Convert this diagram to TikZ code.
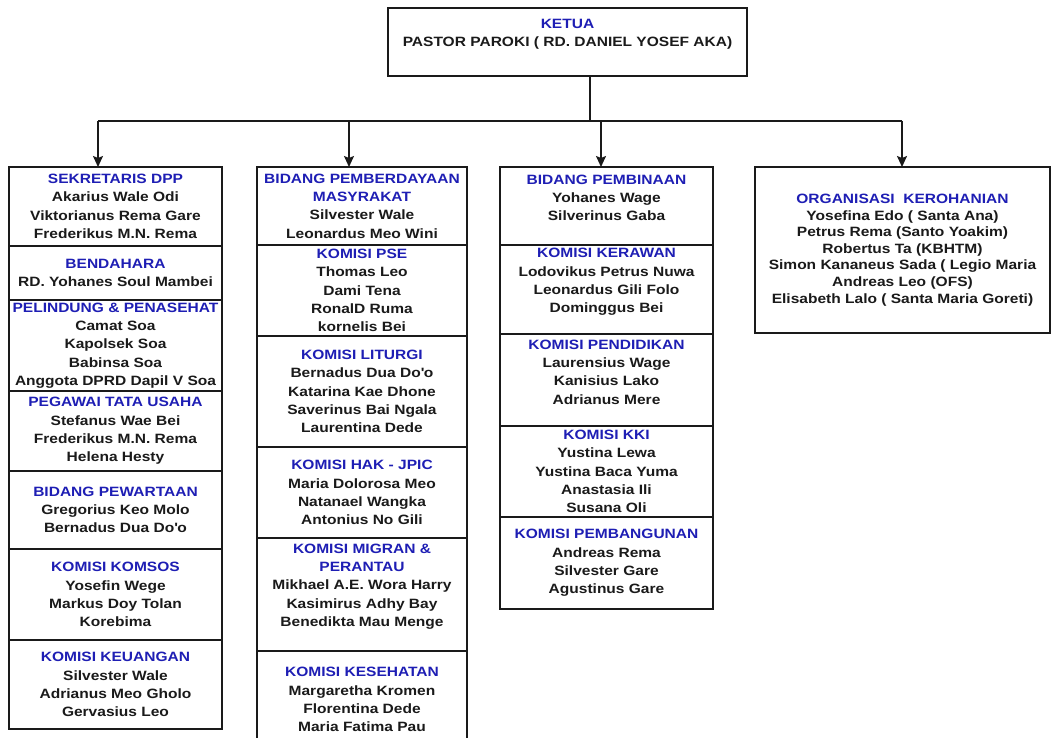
\documentclass[tikz,border=0pt]{standalone}
\usepackage{fontspec}
\setmainfont{Liberation Sans}[FakeStretch=1.15]
\usetikzlibrary{positioning,arrows.meta}
\definecolor{hdblue}{HTML}{1E1EB4}
\definecolor{ink}{HTML}{1A1A1A}
\newcommand{\hdr}[1]{\textcolor{hdblue}{#1}}

\tikzset{
  unit/.style={draw=ink, line width=1.5pt, fill=white, align=center,
    inner sep=0pt, outer sep=0pt, text=ink,
    font=\fontsize{13.5pt}{18.3pt}\selectfont\bfseries},
  unittext/.style={align=center, inner sep=0pt, text=ink,
    font=\fontsize{13.5pt}{18.3pt}\selectfont\bfseries},
  link/.style={draw=ink, line width=1.5pt},
  feed/.style={link, -{Stealth[length=11pt,width=10pt,inset=2pt]}},
}

\begin{document}
\begin{tikzpicture}[x=1pt, y=-1pt]
    \useasboundingbox (0,0) rectangle (1055,738);
    \fill[white] (0,0) rectangle (1055,738);
    \clip (0,0) rectangle (1055,738);

    % ketua
    \node[unit, anchor=north, minimum width=359pt, minimum height=68pt,
        label={[unittext, yshift=8pt]center:{\hdr{KETUA}\\PASTOR PAROKI ( RD. DANIEL YOSEF AKA)}}]
        (ketua) at (567.5,8) {};

    % kolom 1
    \begin{scope}[every node/.append style={minimum width=213pt}]
        \node[unit, anchor=north, minimum height=79pt] (sekretaris) at (115.5,167)
            {\hdr{SEKRETARIS DPP}\\Akarius Wale Odi\\Viktorianus Rema Gare\\Frederikus M.N. Rema};
        \node[unit, below=0pt of sekretaris, minimum height=54pt] (bendahara)
            {\hdr{BENDAHARA}\\RD. Yohanes Soul Mambei};
        \node[unit, below=0pt of bendahara, minimum height=91pt] (pelindung)
            {\hdr{PELINDUNG \& PENASEHAT}\\Camat Soa\\Kapolsek Soa\\Babinsa Soa\\Anggota DPRD Dapil V Soa};
        \node[unit, below=0pt of pelindung, minimum height=80pt] (pegawai)
            {\hdr{PEGAWAI TATA USAHA}\\Stefanus Wae Bei\\Frederikus M.N. Rema\\Helena Hesty};
        \node[unit, below=0pt of pegawai, minimum height=78pt] (pewartaan)
            {\hdr{BIDANG PEWARTAAN}\\Gregorius Keo Molo\\Bernadus Dua Do\textquotesingle o};
        \node[unit, below=0pt of pewartaan, minimum height=91pt] (komsos)
            {\hdr{KOMISI KOMSOS}\\Yosefin Wege\\Markus Doy Tolan\\Korebima};
        \node[unit, below=0pt of komsos, minimum height=89pt] (keuangan)
            {\hdr{KOMISI KEUANGAN}\\Silvester Wale\\Adrianus Meo Gholo\\Gervasius Leo};
    \end{scope}

    % kolom 2
    \begin{scope}[every node/.append style={minimum width=210pt}]
        \node[unit, anchor=north, minimum height=78pt] (masyarakat) at (362,167)
            {\hdr{BIDANG PEMBERDAYAAN}\\\hdr{MASYRAKAT}\\Silvester Wale\\Leonardus Meo Wini};
        \node[unit, below=0pt of masyarakat, minimum height=91pt] (pse)
            {\hdr{KOMISI PSE}\\Thomas Leo\\Dami Tena\\RonalD Ruma\\kornelis Bei};
        \node[unit, below=0pt of pse, minimum height=111pt] (liturgi)
            {\hdr{KOMISI LITURGI}\\Bernadus Dua Do\textquotesingle o\\Katarina Kae Dhone\\Saverinus Bai Ngala\\Laurentina Dede};
        \node[unit, below=0pt of liturgi, minimum height=91pt] (jpic)
            {\hdr{KOMISI HAK - JPIC}\\Maria Dolorosa Meo\\Natanael Wangka\\Antonius No Gili};
        \node[unit, below=0pt of jpic, minimum height=113pt,
            label={[unittext, yshift=8pt]center:{\hdr{KOMISI MIGRAN \&}\\\hdr{PERANTAU}\\Mikhael A.E. Wora Harry\\Kasimirus Adhy Bay\\Benedikta Mau Menge}}]
            (migran) {};
        \node[unit, below=0pt of migran, minimum height=97pt] (kesehatan)
            {\hdr{KOMISI KESEHATAN}\\Margaretha Kromen\\Florentina Dede\\Maria Fatima Pau};
    \end{scope}

    % kolom 3
    \begin{scope}[every node/.append style={minimum width=213pt}]
        \node[unit, anchor=north, minimum height=78pt,
            label={[unittext, yshift=8pt]center:{\hdr{BIDANG PEMBINAAN}\\Yohanes Wage\\Silverinus Gaba}}]
            (pembinaan) at (606.5,167) {};
        \node[unit, below=0pt of pembinaan, minimum height=89pt,
            label={[unittext, yshift=7.5pt]center:{\hdr{KOMISI KERAWAN}\\Lodovikus Petrus Nuwa\\Leonardus Gili Folo\\Dominggus Bei}}]
            (kerawan) {};
        \node[unit, below=0pt of kerawan, minimum height=92pt,
            label={[unittext, yshift=8pt]center:{\hdr{KOMISI PENDIDIKAN}\\Laurensius Wage\\Kanisius Lako\\Adrianus Mere}}]
            (pendidikan) {};
        \node[unit, below=0pt of pendidikan, minimum height=91pt] (kki)
            {\hdr{KOMISI KKI}\\Yustina Lewa\\Yustina Baca Yuma\\Anastasia Ili\\Susana Oli};
        \node[unit, below=0pt of kki, minimum height=92pt] (pembangunan)
            {\hdr{KOMISI PEMBANGUNAN}\\Andreas Rema\\Silvester Gare\\Agustinus Gare};
    \end{scope}

    % kolom 4
    \node[unit, anchor=north, minimum width=295pt, minimum height=166pt,
        font=\fontsize{13.5pt}{16.6pt}\selectfont\bfseries] (kerohanian) at (902.5,167)
        {\hdr{ORGANISASI\ \ KEROHANIAN}\\Yosefina Edo ( Santa Ana)\\Petrus Rema (Santo Yoakim)\\Robertus Ta (KBHTM)\\Simon Kananeus Sada ( Legio Maria\\Andreas Leo (OFS)\\Elisabeth Lalo ( Santa Maria Goreti)};

    % garis penghubung
    \coordinate (bus) at (590,121);
    \coordinate (b1) at (98,121);
    \coordinate (b2) at (349,121);
    \coordinate (b3) at (601,121);
    \coordinate (b4) at (902,121);
    \draw[link] (ketua.south -| bus) -- (bus);
    \draw[link] (b1) -- (b4);
    \draw[feed] (b1) -- (b1 |- sekretaris.north);
    \draw[feed] (b2) -- (b2 |- masyarakat.north);
    \draw[feed] (b3) -- (b3 |- pembinaan.north);
    \draw[feed] (b4) -- (b4 |- kerohanian.north);
\end{tikzpicture}
\end{document}
